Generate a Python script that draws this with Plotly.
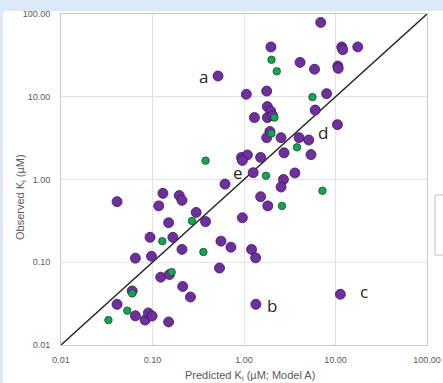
import math
import plotly.graph_objects as go

# ---- data (Predicted Ki, Observed Ki) in µM ----
purple_pred = [6.9, 1.97, 11.7, 12.0, 17.5, 4.1, 5.9, 10.6, 10.7, 0.52,
               1.06, 1.77, 8.0, 1.8, 1.96, 1.3, 1.8, 2.06, 6.0, 10.5,
               1.92, 1.77, 2.54, 4.0, 5.1, 2.74, 5.4, 0.94, 1.09, 0.96,
               1.52, 1.26, 3.6, 2.7, 0.62, 2.54, 1.52, 1.82, 0.96, 0.30,
               0.38, 0.56, 0.041, 0.13, 0.196, 0.21, 0.117, 0.15, 0.094, 0.167,
               0.21, 0.72, 1.21, 1.34, 0.065, 0.0975, 0.54, 0.123, 0.153, 0.214,
               0.26, 0.060, 0.041, 0.065, 0.083, 0.090, 0.099, 0.15, 1.35, 11.3]
purple_obs = [79, 40, 40, 37, 40, 26, 21.5, 23.5, 22, 17.8,
              10.7, 11.7, 10.9, 7.6, 6.7, 5.6, 5.6, 5.9, 6.9, 4.6,
              3.8, 3.2, 3.2, 3.2, 3.0, 2.1, 2.0, 1.85, 1.98, 1.7,
              1.85, 1.21, 1.2, 1.0, 0.88, 0.81, 0.62, 0.48, 0.345, 0.40,
              0.31, 0.18, 0.54, 0.68, 0.64, 0.56, 0.48, 0.30, 0.20, 0.20,
              0.143, 0.152, 0.143, 0.113, 0.112, 0.118, 0.085, 0.066, 0.071, 0.051,
              0.038, 0.045, 0.031, 0.0225, 0.020, 0.0244, 0.0224, 0.019, 0.031, 0.041]

green_pred = [2.0, 2.28, 5.6, 2.15, 1.99, 3.8, 0.38, 1.74, 7.2, 2.6,
              0.27, 0.128, 0.36, 0.162, 0.060, 0.053, 0.033]
green_obs = [28, 20.3, 9.9, 5.6, 3.6, 2.45, 1.69, 1.11, 0.73, 0.48,
             0.315, 0.18, 0.133, 0.076, 0.042, 0.026, 0.020]

label_text = ["a", "b", "c", "d", "e"]
label_x = [0.359, 2.04, 20.6, 7.36, 0.867]
label_y = [17.8, 0.0304, 0.044, 3.68, 1.21]

axis_min, axis_max = 0.01, 100
tick_vals = [0.01, 0.1, 1, 10, 100]
tick_text = ["0.01", "0.10", "1.00", "10.00", "100.00"]

W, H = 443, 383
ML, MR, MT, MB = 61, 16, 14, 38
pw, ph = W - ML - MR, H - MT - MB


def px_x(p):
    return (p - ML) / pw


def px_y(p):
    return (H - MB - p) / ph


fig = go.Figure()

# 1:1 line
fig.add_trace(go.Scatter(x=[axis_min, axis_max], y=[axis_min, axis_max], mode="lines",
                         line=dict(color="#262626", width=1.4), hoverinfo="skip",
                         showlegend=False))

fig.add_trace(go.Scatter(x=purple_pred, y=purple_obs, mode="markers", showlegend=False,
                         marker=dict(size=10, color="#6F2F9F",
                                     line=dict(color="#3B1A56", width=0.8))))
fig.add_trace(go.Scatter(x=green_pred, y=green_obs, mode="markers", showlegend=False,
                         marker=dict(size=7.5, color="#12A650",
                                     line=dict(color="#1F4A2C", width=0.8))))

annotations = []
for t, x, y in zip(label_text, label_x, label_y):
    annotations.append(dict(x=math.log10(x), y=math.log10(y), xref="x", yref="y",
                            text=t, showarrow=False,
                            font=dict(family="Open Sans", size=17, color="#262626")))

annotations.append(dict(x=px_x(250), y=px_y(376), xref="paper", yref="paper",
                        text="Predicted K<sub>i</sub> (µM; Model A)", showarrow=False,
                        xanchor="center", yanchor="middle",
                        font=dict(family="Liberation Sans", size=11, color="#595959")))
annotations.append(dict(x=px_x(21), y=px_y(197), xref="paper", yref="paper",
                        text="Observed K<sub>i</sub> (µM)", showarrow=False, textangle=-90,
                        xanchor="center", yanchor="middle",
                        font=dict(family="Liberation Sans", size=11, color="#595959")))

shapes = [
    # light blue strip on top and left edge of the screenshot
    dict(type="rect", xref="paper", yref="paper", x0=px_x(-2), x1=px_x(W + 2), y0=px_y(11), y1=px_y(-2),
         fillcolor="#DCE8F5", line=dict(width=0), layer="above"),
    dict(type="rect", xref="paper", yref="paper", x0=px_x(-2), x1=px_x(3), y0=px_y(H + 2), y1=px_y(-2),
         fillcolor="#DCE8F5", line=dict(width=0), layer="above"),
    # partially visible legend box
    dict(type="rect", xref="paper", yref="paper", x0=px_x(435), x1=px_x(W + 10),
         y0=px_y(255), y1=px_y(195), fillcolor="rgba(0,0,0,0)",
         line=dict(color="#BFBFBF", width=1)),
]

axis_common = dict(type="log", range=[math.log10(axis_min), math.log10(axis_max)],
                   tickvals=tick_vals, ticktext=tick_text, showgrid=True,
                   gridcolor="#E3E3E3", gridwidth=1, showline=True, mirror=True,
                   linecolor="#C8C8C8", linewidth=1, ticks="", zeroline=False,
                   automargin=False,
                   tickfont=dict(family="Liberation Sans", size=9, color="#595959"))

fig.update_layout(
    width=W, height=H, autosize=False,
    margin=dict(l=ML, r=MR, t=MT, b=MB, pad=0, autoexpand=False),
    paper_bgcolor="white", plot_bgcolor="white",
    xaxis=dict(**axis_common, ticklabelstandoff=6),
    yaxis=dict(**axis_common, ticklabelstandoff=8),
    annotations=annotations, shapes=shapes, showlegend=False,
)

fig.write_html("out.html", config={"displayModeBar": False},
               post_script="document.body.style.margin='0';document.body.style.overflow='hidden';")
